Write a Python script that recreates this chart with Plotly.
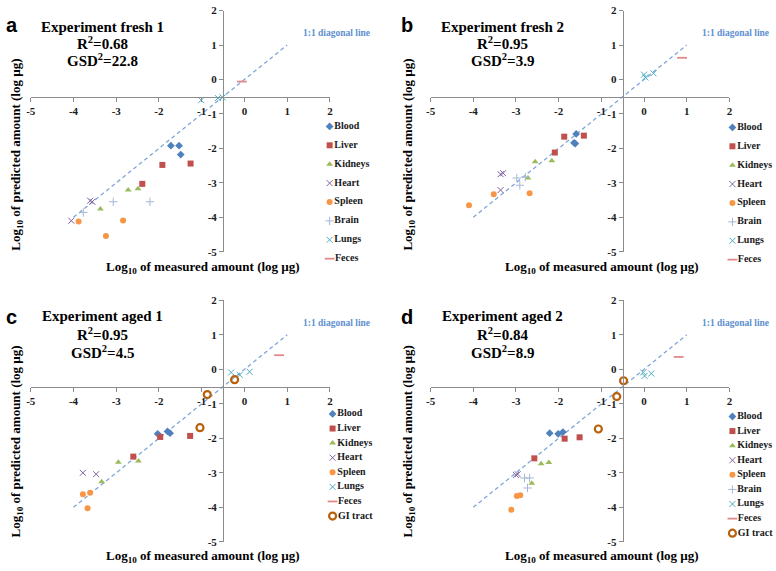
import plotly.graph_objects as go

# ---------------- data (log10 measured vs log10 predicted, log µg) ----------------
ORGANS = ["Blood", "Liver", "Kidneys", "Heart", "Spleen", "Brain", "Lungs", "Feces", "GI tract"]
TICKS = [-5, -4, -3, -2, -1, 0, 1, 2]
TICK_TEXT = ["-5", "-4", "-3", "-2", "-1", "0", "1", "2"]
DIAG_X = [-4, 1]
DIAG_Y = [-4, 1]

# Panel a: Experiment fresh 1
fresh1_blood_x = [-1.72, -1.53, -1.49]
fresh1_blood_y = [-1.92, -1.92, -2.18]
fresh1_liver_x = [-1.92, -2.39, -1.26]
fresh1_liver_y = [-2.48, -3.03, -2.44]
fresh1_kidneys_x = [-3.37, -2.72, -2.49]
fresh1_kidneys_y = [-3.76, -3.21, -3.17]
fresh1_heart_x = [-4.05, -3.61, -3.56]
fresh1_heart_y = [-4.10, -3.52, -3.55]
fresh1_spleen_x = [-3.88, -3.24, -2.84]
fresh1_spleen_y = [-4.12, -4.54, -4.09]
fresh1_brain_x = [-3.77, -3.07, -2.21]
fresh1_brain_y = [-3.86, -3.55, -3.55]
fresh1_lungs_x = [-1.01, -0.62, -0.51]
fresh1_lungs_y = [-0.60, -0.54, -0.52]
fresh1_feces_x = [-0.06]
fresh1_feces_y = [-0.06]

# Panel b: Experiment fresh 2
fresh2_blood_x = [-1.59, -1.64, -1.61]
fresh2_blood_y = [-1.58, -1.84, -1.86]
fresh2_liver_x = [-1.87, -1.41, -2.09]
fresh2_liver_y = [-1.66, -1.63, -2.12]
fresh2_kidneys_x = [-2.55, -2.16, -2.72]
fresh2_kidneys_y = [-2.39, -2.36, -2.86]
fresh2_heart_x = [-3.36, -3.30, -3.36]
fresh2_heart_y = [-2.75, -2.72, -3.21]
fresh2_spleen_x = [-4.10, -3.52, -2.68]
fresh2_spleen_y = [-3.65, -3.33, -3.30]
fresh2_brain_x = [-2.98, -2.91, -2.78]
fresh2_brain_y = [-2.86, -3.07, -2.83]
fresh2_lungs_x = [0.00, 0.03, 0.22]
fresh2_lungs_y = [0.14, 0.06, 0.18]
fresh2_feces_x = [0.89]
fresh2_feces_y = [0.63]

# Panel c: Experiment aged 1
aged1_blood_x = [-2.03, -1.80, -1.74]
aged1_blood_y = [-1.87, -1.80, -1.85]
aged1_liver_x = [-1.97, -2.60, -1.27]
aged1_liver_y = [-1.96, -2.53, -1.93]
aged1_kidneys_x = [-2.95, -2.48, -3.34]
aged1_kidneys_y = [-2.69, -2.66, -3.26]
aged1_heart_x = [-3.78, -3.47]
aged1_heart_y = [-3.00, -3.04]
aged1_spleen_x = [-3.78, -3.61, -3.67]
aged1_spleen_y = [-3.62, -3.58, -4.03]
aged1_lungs_x = [-0.31, -0.11, 0.12]
aged1_lungs_y = [-0.09, -0.16, -0.07]
aged1_feces_x = [0.81]
aged1_feces_y = [0.41]
aged1_gi_x = [-0.23, -0.87, -1.04]
aged1_gi_y = [-0.30, -0.73, -1.69]

# Panel d: Experiment aged 2
aged2_blood_x = [-2.21, -2.01, -1.90]
aged2_blood_y = [-1.85, -1.87, -1.82]
aged2_liver_x = [-1.86, -1.51, -2.57]
aged2_liver_y = [-2.01, -1.97, -2.58]
aged2_kidneys_x = [-2.41, -2.23, -2.63]
aged2_kidneys_y = [-2.74, -2.70, -3.30]
aged2_heart_x = [-3.00, -2.96]
aged2_heart_y = [-3.06, -3.04]
aged2_spleen_x = [-3.11, -2.98, -2.90]
aged2_spleen_y = [-4.07, -3.67, -3.65]
aged2_brain_x = [-2.80, -2.68, -2.73]
aged2_brain_y = [-3.15, -3.15, -3.44]
aged2_lungs_x = [-0.02, 0.01, 0.17]
aged2_lungs_y = [-0.09, -0.19, -0.12]
aged2_feces_x = [0.81]
aged2_feces_y = [0.36]
aged2_gi_x = [-0.48, -0.64, -1.07]
aged2_gi_y = [-0.33, -0.79, -1.73]

TITLES = ["Experiment fresh 1", "Experiment fresh 2", "Experiment aged 1", "Experiment aged 2"]
R2 = ["0.68", "0.95", "0.95", "0.84"]
GSD2 = ["22.8", "3.9", "4.5", "8.9"]
LETTERS = ["a", "b", "c", "d"]

PANEL_DATA = [
    {"Blood": (fresh1_blood_x, fresh1_blood_y), "Liver": (fresh1_liver_x, fresh1_liver_y),
     "Kidneys": (fresh1_kidneys_x, fresh1_kidneys_y), "Heart": (fresh1_heart_x, fresh1_heart_y),
     "Spleen": (fresh1_spleen_x, fresh1_spleen_y), "Brain": (fresh1_brain_x, fresh1_brain_y),
     "Lungs": (fresh1_lungs_x, fresh1_lungs_y), "Feces": (fresh1_feces_x, fresh1_feces_y)},
    {"Blood": (fresh2_blood_x, fresh2_blood_y), "Liver": (fresh2_liver_x, fresh2_liver_y),
     "Kidneys": (fresh2_kidneys_x, fresh2_kidneys_y), "Heart": (fresh2_heart_x, fresh2_heart_y),
     "Spleen": (fresh2_spleen_x, fresh2_spleen_y), "Brain": (fresh2_brain_x, fresh2_brain_y),
     "Lungs": (fresh2_lungs_x, fresh2_lungs_y), "Feces": (fresh2_feces_x, fresh2_feces_y)},
    {"Blood": (aged1_blood_x, aged1_blood_y), "Liver": (aged1_liver_x, aged1_liver_y),
     "Kidneys": (aged1_kidneys_x, aged1_kidneys_y), "Heart": (aged1_heart_x, aged1_heart_y),
     "Spleen": (aged1_spleen_x, aged1_spleen_y),
     "Lungs": (aged1_lungs_x, aged1_lungs_y), "Feces": (aged1_feces_x, aged1_feces_y),
     "GI tract": (aged1_gi_x, aged1_gi_y)},
    {"Blood": (aged2_blood_x, aged2_blood_y), "Liver": (aged2_liver_x, aged2_liver_y),
     "Kidneys": (aged2_kidneys_x, aged2_kidneys_y), "Heart": (aged2_heart_x, aged2_heart_y),
     "Spleen": (aged2_spleen_x, aged2_spleen_y), "Brain": (aged2_brain_x, aged2_brain_y),
     "Lungs": (aged2_lungs_x, aged2_lungs_y), "Feces": (aged2_feces_x, aged2_feces_y),
     "GI tract": (aged2_gi_x, aged2_gi_y)},
]

# ---------------- styles ----------------
STYLE = {
    "Blood":   dict(symbol="diamond", color="#4F81BD", size=6),
    "Liver":   dict(symbol="square", color="#C0504D", size=6),
    "Kidneys": dict(symbol="triangle-up", color="#9BBB59", size=6),
    "Heart":   dict(symbol="x-thin-open", color="#8064A2", size=6, line=dict(width=1, color="#8064A2")),
    "Spleen":  dict(symbol="circle", color="#F79646", size=6),
    "Brain":   dict(symbol="cross-thin-open", color="#A5B6D9", size=6, line=dict(width=1, color="#A5B6D9")),
    "Lungs":   dict(symbol="x-thin-open", color="#4BACC6", size=6, line=dict(width=1, color="#4BACC6")),
    "Feces":   dict(symbol="line-ew-open", color="#E0888A", size=7, line=dict(width=1.8, color="#E0888A")),
    "GI tract": dict(symbol="circle-open", color="#B8600C", size=7, line=dict(width=2.2, color="#B8600C")),
}

W, H = 776, 571
SERIF = "Liberation Serif"
SANS = "Liberation Sans"

def fx(p):
    return min(1.0, max(0.0, p / W))

def fy(p):
    return min(1.0, max(0.0, 1 - p / H))

# panel plot-area pixel boxes (x0, x1, ytop, ybottom)
BOX = [(26, 328.3, 4.7, 251), (430, 732, 4.7, 251), (26, 328.3, 300.7, 547.3), (430, 732, 300.7, 547.3)]
CROSS = -0.5
# legend: marker x px, first entry y px, spacing
LEG = [(328, 123, 19.3), (735, 124, 19.3), (331, 416.7, 14.9), (735, 419.3, 14.9)]

fig = go.Figure()
layout = dict(width=W, height=H, margin=dict(l=0, r=0, t=0, b=0),
              paper_bgcolor="white", plot_bgcolor="rgba(0,0,0,0)", showlegend=False)
annotations = []

for i in range(4):
    k = i + 1
    x0, x1, yt, yb = BOX[i]
    xa = "x" if k == 1 else f"x{k}"
    ya = "y" if k == 1 else f"y{k}"
    ycross_px = yt + (2 - CROSS) / 7 * (yb - yt)
    xcross_px = x0 + (CROSS + 5) / 7 * (x1 - x0)
    axcommon = dict(range=[-5, 2], tickvals=TICKS, ticktext=TICK_TEXT, showgrid=False, zeroline=False,
                    showline=True, linecolor="#8C8C8C", linewidth=1, ticks="outside", ticklen=4,
                    tickcolor="#8C8C8C", tickfont=dict(family=SERIF, size=11, color="#1a1a1a", weight="bold"),
                    fixedrange=True)
    layout["xaxis" if k == 1 else f"xaxis{k}"] = dict(axcommon, domain=[fx(x0), fx(x1)], anchor="free",
                                                     position=fy(ycross_px))
    layout["yaxis" if k == 1 else f"yaxis{k}"] = dict(axcommon, domain=[fy(yb), fy(yt)], anchor="free",
                                                     position=fx(xcross_px))
    # 1:1 line
    fig.add_trace(go.Scatter(x=DIAG_X, y=DIAG_Y, mode="lines", xaxis=xa, yaxis=ya,
                             line=dict(color="#7FA7D8", width=1.3, dash="4px,3px"), hoverinfo="skip"))
    data = PANEL_DATA[i]
    for organ in ORGANS:
        if organ not in data:
            continue
        xs, ys = data[organ]
        st = STYLE[organ]
        fig.add_trace(go.Scatter(x=xs, y=ys, mode="markers", name=organ, xaxis=xa, yaxis=ya,
                                 cliponaxis=False, marker=st))
    # legend on its own hidden axes
    mx, ly0, sp = LEG[i]
    names = [o for o in ORGANS if o in data]
    n = len(names)
    lk = k + 4
    right = min(W, mx + 55)
    layout[f"xaxis{lk}"] = dict(domain=[fx(mx - 5), fx(right)], range=[-5, right - mx], visible=False,
                                fixedrange=True, anchor=f"y{lk}")
    layout[f"yaxis{lk}"] = dict(domain=[fy(ly0 + (n - 0.5) * sp), fy(ly0 - 0.5 * sp)],
                                range=[n - 0.5, -0.5], visible=False, fixedrange=True, anchor=f"x{lk}")
    for j, organ in enumerate(names):
        st = STYLE[organ]
        fig.add_trace(go.Scatter(x=[0], y=[j], mode="markers+text", text=[organ], textposition="middle right",
                                 textfont=dict(family=SERIF, size=10, color="#1a1a1a", weight="bold"),
                                 xaxis=f"x{lk}", yaxis=f"y{lk}", cliponaxis=False,
                                 marker=st))

    # texts
    tcx = 99 if i % 2 == 0 else 503
    tdy = [21, 38, 55] if i < 2 else [317, 335, 353]
    for t, yy in zip([TITLES[i], f"R<sup>2</sup>={R2[i]}", f"GSD<sup>2</sup>={GSD2[i]}"], tdy):
        annotations.append(dict(text=t, x=fx(tcx), y=fy(yy), xref="paper", yref="paper", showarrow=False,
                                xanchor="center", yanchor="middle",
                                font=dict(family=SERIF, size=15, color="black", weight="bold")))
    lx = 7 if i % 2 == 0 else 406
    ly = 19 if i < 2 else 318
    annotations.append(dict(text=LETTERS[i], x=fx(lx), y=fy(ly), xref="paper", yref="paper", showarrow=False,
                            xanchor="center", yanchor="middle",
                            font=dict(family=SANS, size=20, color="black", weight="bold")))
    dlx = 335 if i % 2 == 0 else 738
    dly = 28 if i < 2 else 324
    annotations.append(dict(text="1:1 diagonal line", x=fx(dlx), y=fy(dly), xref="paper", yref="paper",
                            showarrow=False, xanchor="center", yanchor="middle",
                            font=dict(family=SERIF, size=9.5, color="#5E8FCF", weight="bold")))
    # axis titles
    xtx = 200 if i % 2 == 0 else 603
    xty = 267 if i < 2 else 562
    annotations.append(dict(text="Log<sub>10</sub> of measured amount (log µg)", x=fx(xtx), y=fy(xty),
                            xref="paper", yref="paper", showarrow=False, xanchor="center", yanchor="middle",
                            font=dict(family=SERIF, size=13, color="black", weight="bold")))
    ytx = 12 if i % 2 == 0 else 408
    yty = 152 if i < 2 else 445
    annotations.append(dict(text="Log<sub>10</sub> of predicted amount (log µg)", x=fx(ytx), y=fy(yty),
                            xref="paper", yref="paper", showarrow=False, xanchor="center", yanchor="middle",
                            textangle=-90,
                            font=dict(family=SERIF, size=13, color="black", weight="bold")))

layout["annotations"] = annotations
fig.update_layout(**layout)
fig.write_html("out.html", config={"displayModeBar": False},
               post_script="document.body.style.margin='0';document.body.style.overflow='hidden';")
